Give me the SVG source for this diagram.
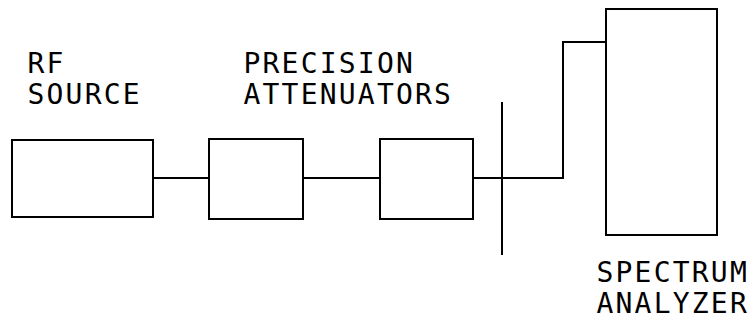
<svg xmlns="http://www.w3.org/2000/svg" width="753" height="322" viewBox="0 0 753 322">
<style>
.box{fill:none;stroke:#000;stroke-width:2}
.wire{fill:none;stroke:#000;stroke-width:2}
.lbl{font-family:"DejaVu Sans Mono","Liberation Mono",monospace;font-size:28px;letter-spacing:2.2px;fill:#000}
</style>
<rect width="753" height="322" fill="#fff"/>
<g id="rf-source">
<rect class="box" x="12" y="140" width="141" height="77"/>
<text class="lbl" x="27.5" y="73">RF</text>
<text class="lbl" x="27.5" y="104">SOURCE</text>
</g>
<g id="attenuator-1">
<rect class="box" x="209" y="139" width="94" height="80"/>
</g>
<g id="attenuator-2">
<rect class="box" x="380" y="139" width="93" height="80"/>
</g>
<g id="attenuators-label">
<text class="lbl" x="243.5" y="73">PRECISION</text>
<text class="lbl" x="243.5" y="104">ATTENUATORS</text>
</g>
<g id="spectrum-analyzer">
<rect class="box" x="606" y="9" width="111" height="226"/>
<text class="lbl" x="596.5" y="282">SPECTRUM</text>
<text class="lbl" x="596.5" y="313">ANALYZER</text>
</g>
<g id="connectors">
<line class="wire" x1="153" y1="178" x2="209" y2="178"/>
<line class="wire" x1="303" y1="178" x2="380" y2="178"/>
<polyline class="wire" points="473,178 563,178 563,42 606,42"/>
<line class="wire" x1="502" y1="102" x2="502" y2="255"/>
</g>
</svg>
